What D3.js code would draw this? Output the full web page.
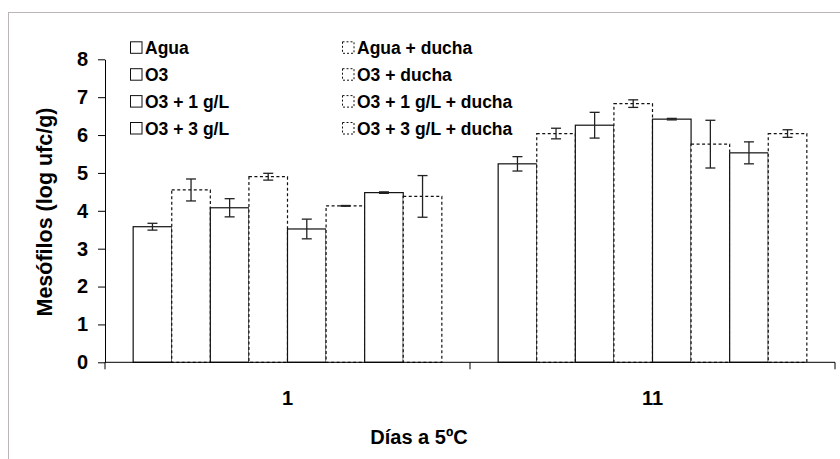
<!DOCTYPE html>
<html><head><meta charset="utf-8">
<script src="https://cdn.jsdelivr.net/npm/d3@7"></script>
<style>
html,body{margin:0;padding:0;background:#fff;}
svg{display:block;font-family:"Liberation Sans",Arial,sans-serif;font-weight:bold;}
</style></head>
<body>
<svg id="chart" width="840" height="459"></svg>
<script>
const categories = ["1", "11"];
const series = ["Agua", "Agua + ducha", "O3", "O3 + ducha", "O3 + 1 g/L", "O3 + 1 g/L + ducha", "O3 + 3 g/L", "O3 + 3 g/L + ducha"];
const dashedSeries = [false, true, false, true, false, true, false, true];
const valuesDay1 = [3.58, 4.55, 4.08, 4.90, 3.52, 4.13, 4.48, 4.38];
const errorsDay1 = [0.09, 0.29, 0.24, 0.09, 0.26, 0.01, 0.02, 0.55];
const valuesDay11 = [5.24, 6.04, 6.26, 6.83, 6.42, 5.76, 5.53, 6.04];
const errorsDay11 = [0.19, 0.14, 0.34, 0.10, 0.02, 0.63, 0.29, 0.10];
const yTicks = [0, 1, 2, 3, 4, 5, 6, 7, 8];
const yTitle = "Mesófilos (log ufc/g)";
const xTitle = "Días a 5ºC";

const values = [valuesDay1, valuesDay11];
const errors = [errorsDay1, errorsDay11];
const data = [];
categories.forEach((c, ci) => series.forEach((s, si) => data.push({
  cat: c, ser: s, dashed: dashedSeries[si], v: values[ci][si], e: errors[ci][si]
})));

const svg = d3.select("#chart");
const plotL = 105, plotR = 835, plotT = 59.3, plotB = 362.3;

// outer frame
svg.append("rect").attr("x", 8.5).attr("y", 12.5).attr("width", 840).attr("height", 460)
  .attr("fill", "none").attr("stroke", "#bcb4b6").attr("stroke-width", 1);

const y = d3.scaleLinear().domain([0, 8]).range([plotB, plotT]);
const x = d3.scaleBand().domain(categories).range([plotL, plotR]).paddingInner(0).paddingOuter(0);
const xs = d3.scaleBand().domain(series).range([0, x.bandwidth()]).paddingInner(0).paddingOuter(0.73);

// bars
const bars = svg.append("g");
bars.selectAll("rect").data(data).join("rect")
  .attr("x", d => x(d.cat) + xs(d.ser))
  .attr("y", d => y(d.v))
  .attr("width", xs.bandwidth())
  .attr("height", d => y(0) - y(d.v))
  .attr("fill", "#fff")
  .attr("stroke", "#111")
  .attr("stroke-width", 1.2)
  .attr("stroke-dasharray", d => d.dashed ? "3,2.5" : null);

// error bars
const eb = svg.append("g").attr("stroke", "#222").attr("stroke-width", 1.3);
data.forEach(d => {
  const cx = x(d.cat) + xs(d.ser) + xs.bandwidth() / 2;
  const y1 = y(d.v + d.e), y2 = y(d.v - d.e);
  eb.append("line").attr("x1", cx).attr("x2", cx).attr("y1", y1).attr("y2", y2);
  eb.append("line").attr("x1", cx - 5).attr("x2", cx + 5).attr("y1", y1).attr("y2", y1);
  eb.append("line").attr("x1", cx - 5).attr("x2", cx + 5).attr("y1", y2).attr("y2", y2);
});

// y axis
const yAxis = svg.append("g").attr("transform", `translate(${plotL},0)`)
  .call(d3.axisLeft(y).tickValues(yTicks).tickFormat(d3.format("d")).tickSize(7).tickSizeOuter(0).tickPadding(10));
yAxis.selectAll("text").attr("font-size", 20).attr("font-family", "'Liberation Sans',Arial,sans-serif").attr("font-weight", "bold").attr("fill", "#000");
yAxis.selectAll("line,path").attr("stroke", "#000");

// x axis (ticks between categories)
const xg = svg.append("g");
xg.append("line").attr("x1", plotL).attr("x2", plotR).attr("y1", plotB).attr("y2", plotB).attr("stroke", "#000");
const bounds = categories.map(c => x(c)).concat([x(categories[categories.length - 1]) + x.bandwidth()]);
xg.selectAll("line.tk").data(bounds).join("line").attr("class", "tk")
  .attr("x1", d => d).attr("x2", d => d).attr("y1", plotB).attr("y2", plotB + 7).attr("stroke", "#000");
xg.selectAll("text").data(categories).join("text")
  .attr("x", d => x(d) + x.bandwidth() / 2).attr("y", 405)
  .attr("text-anchor", "middle").attr("font-size", 20).text(d => d);

// titles
svg.append("text").attr("transform", "translate(52,212) rotate(-90)")
  .attr("text-anchor", "middle").attr("font-size", 21.5).text(yTitle);
svg.append("text").attr("x", 419).attr("y", 444).attr("text-anchor", "middle")
  .attr("font-size", 20).text(xTitle);

// legend
const legCols = [{sx: 130.5, tx: 145}, {sx: 342.5, tx: 357}];
const leg = svg.append("g").attr("font-size", 17.5);
series.forEach((s, i) => {
  const col = legCols[dashedSeries[i] ? 1 : 0];
  const row = Math.floor(i / 2);
  const base = 54.3 + row * 26.9;
  leg.append("rect").attr("x", col.sx).attr("y", base - 12.5).attr("width", 11.5).attr("height", 11.5)
    .attr("fill", "#fff").attr("stroke", "#111").attr("stroke-width", 1)
    .attr("stroke-dasharray", dashedSeries[i] ? "2,2" : null);
  leg.append("text").attr("x", col.tx).attr("y", base).text(s);
});
</script>
</body></html>
